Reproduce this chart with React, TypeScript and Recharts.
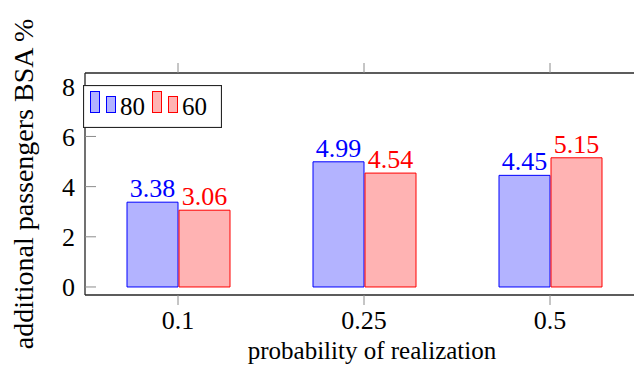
import { Bar, BarChart, XAxis, YAxis, LabelList, Legend, Label } from "recharts"

const categories = ["0.1", "0.25", "0.5"]
const series80 = [3.38, 4.99, 4.45]
const series60 = [3.06, 4.54, 5.15]
const yTicks = [0, 2, 4, 6, 8]
const seriesNames = ["80", "60"]

const FONT = "Liberation Serif"
const NUM_SIZE = 26
const TITLE_SIZE = 28
const BLUE = "#0000ff"
const BLUE_FILL = "#b3b3ff"
const RED = "#ff0000"
const RED_FILL = "#ffb3b3"
const AXIS = "#262626"

const data = categories.map((cat, i) => ({ cat, s80: series80[i], s60: series60[i] }))

function NoTick() {
  return null
}

function YTick(props: any) {
  const { x, y, payload } = props
  return (
    <g>
      <line x1={x + 10} x2={x + 21} y1={y} y2={y} stroke="#8c8c8c" strokeWidth={1} />
      <text x={x} y={y} dy="0.355em" textAnchor="end" fontSize={NUM_SIZE} fontFamily={FONT} fill="#000">
        {payload.value}
      </text>
    </g>
  )
}

function LegendBox() {
  const items = [
    { label: seriesNames[0], stroke: BLUE, fill: BLUE_FILL },
    { label: seriesNames[1], stroke: RED, fill: RED_FILL },
  ]
  return (
    <svg width={139} height={43} style={{ display: "block" }}>
      <rect x={0.5} y={0.5} width={138} height={42} fill="#fff" stroke={AXIS} strokeWidth={1.2} />
      {items.map((it, i) => {
        const ox = 7 + i * 62
        return (
          <g key={it.label}>
            <rect x={ox + 0.5} y={6.5} width={9} height={21} fill={it.fill} stroke={it.stroke} />
            <rect x={ox + 16.5} y={11.5} width={9} height={16} fill={it.fill} stroke={it.stroke} />
            <text x={ox + 30} y={30} fontSize={25} fontFamily={FONT} fill="#000">
              {it.label}
            </text>
          </g>
        )
      })}
    </svg>
  )
}

export default function App() {
  return (
    <div
      style={{
        position: "absolute",
        left: 0,
        top: 0,
        width: 634,
        height: 365,
        overflow: "hidden",
        background: "#fff",
        fontFamily: FONT,
      }}
    >
      <BarChart
        width={643}
        height={365}
        data={data}
        margin={{ top: 72, right: 0, bottom: 0, left: 0 }}
        barSize={51}
        barGap={1}
      >
        <XAxis
          dataKey="cat"
          height={70}
          tickSize={10}
          tickMargin={6}
          stroke={AXIS}
          tickLine={{ stroke: "#8c8c8c" }}
          axisLine={{ stroke: AXIS, strokeWidth: 1.3 }}
          tick={{ fill: "#000", fontSize: NUM_SIZE, fontFamily: FONT }}
        >
          <Label
            content={(p: any) => {
              const vb = p.viewBox
              return (
                <text
                  x={vb.x + vb.width / 2 + 8}
                  y={vb.y + vb.height - 6}
                  textAnchor="middle"
                  fontSize={25}
                  fontFamily={FONT}
                  fill="#000"
                >
                  probability of realization
                </text>
              )
            }}
          />
        </XAxis>
        <XAxis
          xAxisId="top"
          dataKey="cat"
          orientation="top"
          height={1}
          tick={<NoTick />}
          tickSize={10}
          stroke={AXIS}
          tickLine={{ stroke: "#8c8c8c" }}
          axisLine={{ stroke: AXIS, strokeWidth: 1.3 }}
        />
        <YAxis
          width={85}
          domain={[-0.32, 8.53]}
          ticks={yTicks}
          allowDataOverflow
          tickSize={0}
          tickMargin={10}
          tickLine={false}
          axisLine={{ stroke: AXIS, strokeWidth: 1.3 }}
          tick={<YTick />}
        >
          <Label
            content={(p: any) => {
              const vb = p.viewBox
              const cx = 33
              const cy = vb.y + vb.height / 2
              return (
                <text
                  x={cx}
                  y={cy}
                  transform={`rotate(-90, ${cx}, ${cy})`}
                  textAnchor="middle"
                  fontSize={TITLE_SIZE}
                  fontFamily={FONT}
                  fill="#000"
                >
                  additional passengers BSA %
                </text>
              )
            }}
          />
        </YAxis>
        <Legend
          layout="horizontal"
          verticalAlign="middle"
          align="center"
          wrapperStyle={{ left: 83, top: 85, width: 139, height: 43 }}
          content={<LegendBox />}
        />
        <Bar dataKey="s80" name={seriesNames[0]} fill={BLUE_FILL} stroke={BLUE} strokeWidth={1} isAnimationActive={false}>
          <LabelList dataKey="s80" position="top" fill={BLUE} fontSize={NUM_SIZE} fontFamily={FONT} />
        </Bar>
        <Bar dataKey="s60" name={seriesNames[1]} fill={RED_FILL} stroke={RED} strokeWidth={1} isAnimationActive={false}>
          <LabelList dataKey="s60" position="top" fill={RED} fontSize={NUM_SIZE} fontFamily={FONT} />
        </Bar>
      </BarChart>
    </div>
  )
}
